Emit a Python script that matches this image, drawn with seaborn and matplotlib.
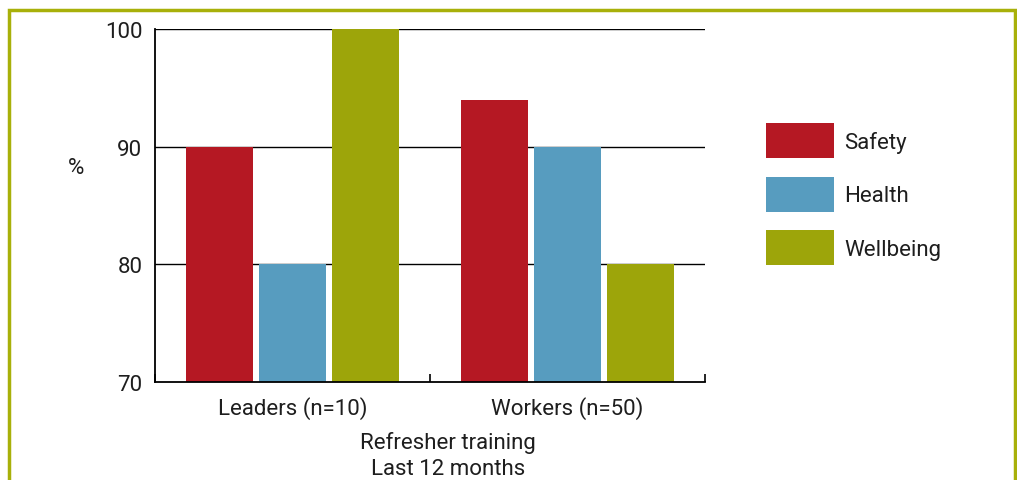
import matplotlib
matplotlib.use("Agg")
import matplotlib.pyplot as plt
from matplotlib.patches import Rectangle
import seaborn as sns
import pandas as pd

groups = ["Leaders (n=10)", "Workers (n=50)"]
topics = ["Safety", "Health", "Wellbeing"]
safety = [90, 94]
health = [80, 90]
wellbeing = [100, 80]
colors = ["#B51823", "#579CBF", "#9DA50A"]

rows = []
for i, g in enumerate(groups):
    for t, vals in zip(topics, [safety, health, wellbeing]):
        rows.append({"group": g, "topic": t, "value": vals[i]})
df = pd.DataFrame(rows)

sns.set_style("white")
plt.rcParams['font.family'] = ['Roboto', 'DejaVu Sans']
plt.rcParams['text.color'] = '#1e1e1e'

fig = plt.figure(figsize=(10.17, 4.81), dpi=100)
ax = fig.add_axes([155/1017, 98/481, 550/1017, 353/481])

sns.barplot(data=df, x="group", y="value", hue="topic", hue_order=topics,
            palette=colors, saturation=1, width=0.8, gap=0.09, linewidth=0,
            ax=ax)

ax.set_ylim(70, 100)
ax.set_xlim(-0.5, 1.5)
ax.set_yticks([70, 80, 90, 100])
for v in [80, 90, 100]:
    ax.axhline(v, color='black', lw=1, zorder=0)
ax.set_xlabel('')
ax.set_ylabel('')
ax.tick_params(axis='y', length=0, pad=9, labelsize=16, labelcolor='#1e1e1e')
ax.tick_params(axis='x', which='major', length=0, pad=10, labelsize=16, labelcolor='#1e1e1e')
ax.set_xticks([-0.5, 0.5, 1.5], minor=True)
ax.tick_params(axis='x', which='minor', bottom=True, direction='in',
               length=6, width=1.2, color='black')

for s in ['top', 'right']:
    ax.spines[s].set_visible(False)
for s in ['left', 'bottom']:
    ax.spines[s].set_color('black')
    ax.spines[s].set_linewidth(1.3)

fig.text(76/1017, 1 - 168/481, '%', ha='center', va='center', fontsize=16)
fig.text(448/1017, 1 - 456/481, 'Refresher training\nLast 12 months',
         ha='center', va='center', fontsize=16, linespacing=1.3)

ax.legend(loc='upper left', bbox_to_anchor=(766/1017, 1 - 124/481),
          bbox_transform=fig.transFigure, frameon=False, fontsize=16,
          handlelength=3.06, handleheight=2.05, labelspacing=0.83,
          handletextpad=0.45, borderpad=0, borderaxespad=0)

fig.patches.append(Rectangle((9/1017, -0.1), 1006/1017, 1.1 - 11/481,
                             transform=fig.transFigure, fill=False,
                             edgecolor='#A8B00A', lw=2.5))

fig.savefig('out.png', dpi=100)
